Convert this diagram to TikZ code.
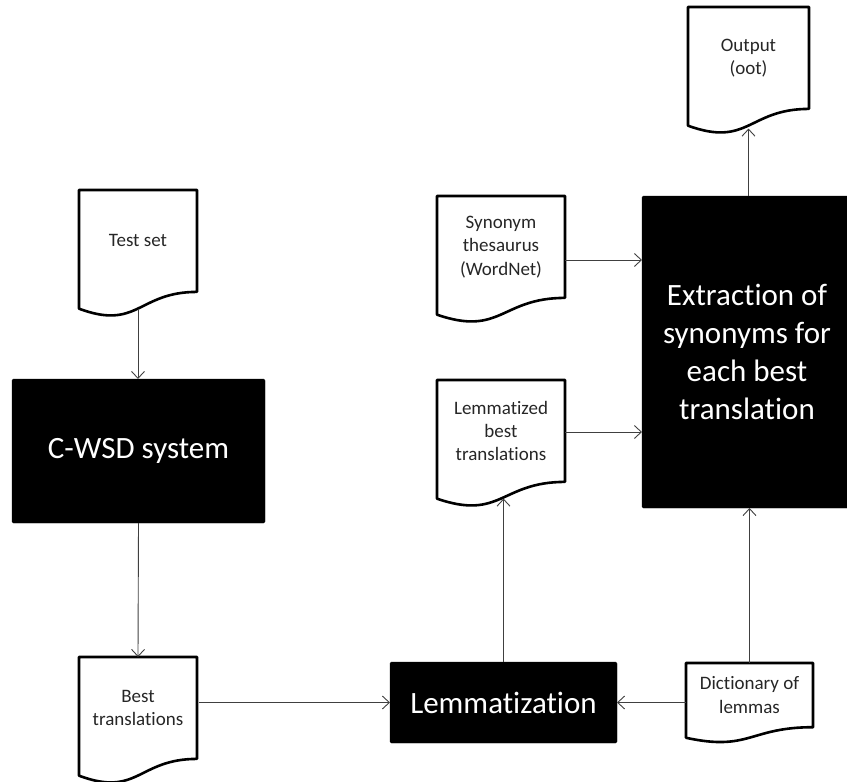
\documentclass[tikz,border=0pt]{standalone}
\usepackage{fontspec}
\setmainfont[Ligatures=NoCommon]{Carlito}
\usetikzlibrary{calc,arrows.meta}

\tikzset{
  docnode/.style={inner sep=0pt, outer sep=0pt, minimum height=101.9pt,
    align=center, font=\fontsize{19}{23.4}\selectfont, text=black!85},
  docline/.style={draw=black, line width=2.6pt, line join=round},
  procbox/.style={fill=black, draw=black, rounded corners=1.5pt, inner sep=0pt,
    outer sep=0pt, align=center, text=white,
    font=\fontsize{31}{38}\selectfont},
  conn/.style={draw=black!75, line width=0.9pt,
    -{Straight Barb[length=7pt,width=13pt,line width=0.9pt]}},
}

% document symbol: flat top, wavy bottom edge
\newcommand\docoutline[2]{%
  \draw[docline] (#1.north west) -- (#1.north east) -- (#1.south east)
    .. controls (#1.south) and ($(#1.south)+(0,{0.3055*#2})$)
    .. ($(#1.south west)+(0,{0.132*#2})$) -- cycle;
  \coordinate (#1-bot) at ($(#1.south)+(0,{0.131*#2})$);}

\begin{document}
\begin{tikzpicture}[x=1pt,y=-1pt]
  \useasboundingbox (0,0) rectangle (847,782);

  % documents
  \node[docnode, minimum width=118pt, anchor=north] (test) at (138,190) {Test set};
  \node[docnode, minimum width=118pt, anchor=north] (best) at (138,657) {Best\\translations};
  \node[docnode, minimum width=128pt, anchor=north] (syn) at (501,196) {Synonym\\thesaurus\\(WordNet)};
  \node[docnode, minimum width=128pt, anchor=north] (lemd) at (501,380) {Lemmatized\\best\\translations};
  \node[docnode, minimum width=121pt, anchor=north] (out) at (748.5,7) {Output\\(oot)};
  \node[docnode, minimum width=127pt, minimum height=64.2pt, anchor=north] (dict) at (749.5,663) {Dictionary of\\lemmas};

  \docoutline{test}{127}
  \docoutline{best}{127}
  \docoutline{syn}{127}
  \docoutline{lemd}{127}
  \docoutline{out}{127}
  \docoutline{dict}{80}

  % processes
  \node[procbox, minimum width=253pt, minimum height=144pt] (cwsd) at (138.5,451) {\raisebox{-4pt}{C-WSD system}};
  \node[procbox, minimum width=227pt, minimum height=81pt] (lemma) at (503.5,702.5) {Lemmatization};
  \node[procbox, minimum width=210pt, minimum height=312pt] (extr) at (747,352)
    {Extraction of\\synonyms for\\each best\\translation};

  % connectors
  \draw[conn] (test-bot) -- (test-bot |- cwsd.north);
  \draw[conn] (cwsd.south) -- (best.north);
  \draw[conn] ($(best.east |- lemma.west)+(2,0)$) -- (lemma.west);
  \draw[conn] (dict.west |- lemma.east) -- (lemma.east);
  \draw[conn] (dict.north) -- (dict.north |- extr.south);
  \draw[conn] (lemma.north) -- (lemma.north |- lemd-bot);
  \coordinate (synout) at ($(syn.north east)+(0,64)$);
  \draw[conn] (synout) -- (extr.west |- synout);
  \coordinate (lemdout) at ($(lemd.north east)+(0,52)$);
  \draw[conn] (lemdout) -- (extr.west |- lemdout);
  \draw[conn] (out-bot |- extr.north) -- ($(out-bot)+(0,3)$);
\end{tikzpicture}
\end{document}
